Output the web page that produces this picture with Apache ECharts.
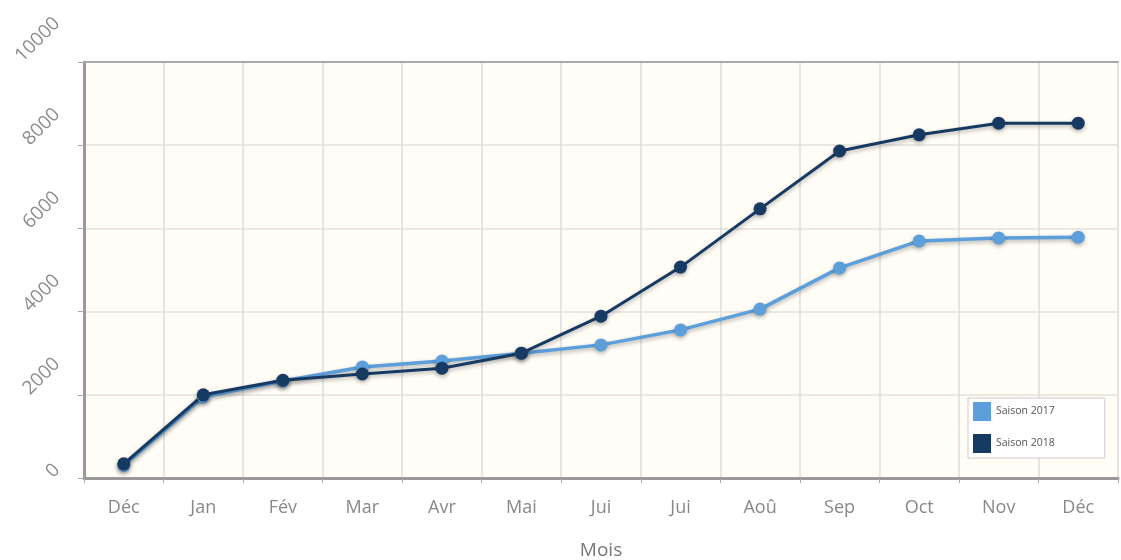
<!DOCTYPE html>
<html><head><meta charset="utf-8">
<script src="https://cdn.jsdelivr.net/npm/echarts@6/dist/echarts.min.js"></script>
<style>html,body{margin:0;padding:0;background:#fff}#c{width:1121px;height:560px}</style>
</head><body><div id="c"></div>
<script>
const categories = ['Déc','Jan','Fév','Mar','Avr','Mai','Jui','Jui','Aoû','Sep','Oct','Nov','Déc'];
const saison2017 = [300,1950,2330,2670,2810,3000,3200,3560,4060,5050,5700,5770,5790];
const saison2018 = [340,2000,2350,2500,2640,3000,3890,5070,6470,7860,8250,8530,8530];
const yTicks = {min:0, max:10000, interval:2000};

const chart = echarts.init(document.getElementById('c'));
const lineShadow = {shadowColor:'rgba(0,0,0,0.3)', shadowBlur:4, shadowOffsetY:2};
const yl = (pb) => ({fontSize:19, color:'#8a8a8a', fontFamily:'Open Sans', padding:[0,0,pb,0]});
chart.setOption({
  animation:false,
  textStyle:{fontFamily:'Open Sans'},
  grid:{left:84,right:3,top:62,bottom:82,show:true,backgroundColor:'#fffdf6',borderWidth:0,
        containLabel:false, outerBoundsMode:'none'},
  legend:{
    orient:'vertical', left:968, top:398,
    backgroundColor:'#fff', borderColor:'#ccc', borderWidth:1, borderRadius:0,
    padding:[4,50,5,5], itemGap:13, icon:'rect', itemWidth:18, itemHeight:19,
    textStyle:{fontSize:10.5,color:'#555',padding:[-9,0,0,0]},
    data:['Saison 2017','Saison 2018']
  },
  xAxis:[{
    type:'category', data:categories, boundaryGap:true,
    name:'Mois', nameLocation:'middle', nameGap:63,
    nameTextStyle:{fontSize:19,color:'#777'},
    axisLine:{lineStyle:{color:'#999',width:3}},
    axisTick:{show:true,length:5,lineStyle:{color:'#aaa'}},
    axisLabel:{fontSize:18,color:'#888',margin:21},
    splitLine:{show:true,lineStyle:{color:'#ddd',width:1.5}}
  },{
    type:'category', data:categories, position:'top',
    axisLine:{lineStyle:{color:'#aaa',width:2}},
    axisTick:{show:false}, axisLabel:{show:false}, splitLine:{show:false}
  }],
  yAxis:{
    type:'value', min:yTicks.min, max:yTicks.max, interval:yTicks.interval,
    axisLine:{show:true,lineStyle:{color:'#999',width:3}},
    axisTick:{show:true,length:6,lineStyle:{color:'#aaa'}},
    axisLabel:{rotate:45, align:'center', verticalAlign:'middle', margin:24,
      formatter:v=>'{l'+String(v).length+'|'+v+'}',
      rich:{l1:yl(20), l4:yl(52), l5:yl(63)}},
    splitLine:{lineStyle:{color:'#e3e0da',width:1.5}}
  },
  series:[{
    name:'Saison 2017', type:'line', data:saison2017,
    symbol:'circle', symbolSize:13, color:'#5d9fdb',
    lineStyle:Object.assign({width:3.5,color:'#5d9fdb'},lineShadow),
    itemStyle:Object.assign({color:'#5d9fdb'},lineShadow)
  },{
    name:'Saison 2018', type:'line', data:saison2018,
    symbol:'circle', symbolSize:13, color:'#173a63',
    lineStyle:Object.assign({width:3,color:'#173a63'},lineShadow),
    itemStyle:Object.assign({color:'#173a63'},lineShadow)
  }]
});
</script></body></html>
